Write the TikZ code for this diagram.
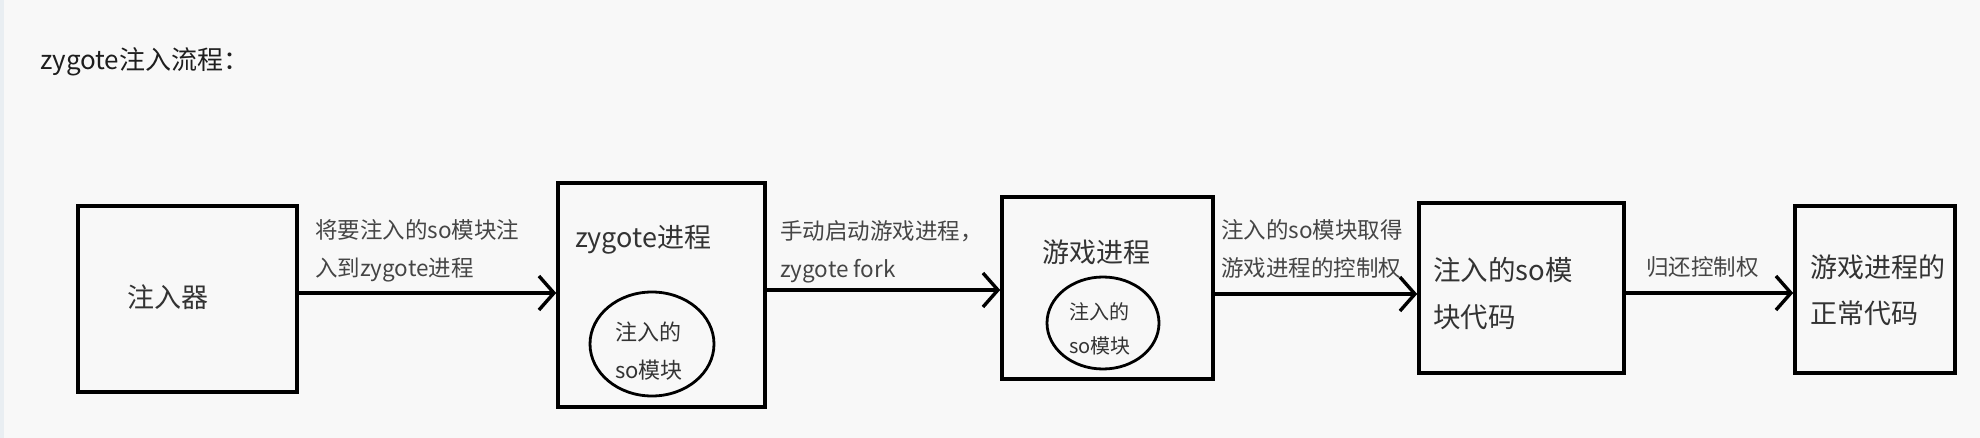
\documentclass[tikz,border=0pt]{standalone}
\usepackage{fontspec}
\setmainfont{Noto Sans CJK SC}
\usetikzlibrary{arrows.meta,shapes.geometric}
\definecolor{bgcol}{HTML}{F8F8F8}
\definecolor{stripcol}{HTML}{E9EEF2}
\definecolor{titlecol}{HTML}{1E1E1E}
\definecolor{boxtext}{HTML}{333333}
\definecolor{labtext}{HTML}{454545}
\begin{document}
\begin{tikzpicture}[x=1pt,y=-1pt,
  box/.style={draw=black, line width=3.6pt, rectangle, inner sep=0pt},
  oval/.style={draw=black, line width=2.8pt, ellipse, inner sep=0pt},
  arr/.style={draw=black, line width=3.4pt, -{Straight Barb[length=15pt,width=34pt]}},
  txt/.style={anchor=west, inner sep=0pt, align=left, text=boxtext},
  lab/.style={anchor=west, inner sep=0pt, align=left, text=labtext, font=\fontsize{22.5pt}{38pt}\selectfont}
]
\useasboundingbox (0,0) rectangle (1980,438);
\fill[bgcol] (0,0) rectangle (1980,438);
\fill[stripcol] (0,0) rectangle (4,438);

% title
\node[anchor=west, inner sep=0pt, text=titlecol, font=\fontsize{26pt}{30pt}\selectfont] (title) at (40,62) {zygote注入流程：};

% boxes
\node[box, minimum width=219pt, minimum height=186pt] (b1) at (187.5,299) {};
\node[box, minimum width=207pt, minimum height=224pt] (b2) at (661.5,295) {};
\node[box, minimum width=211pt, minimum height=182pt] (b3) at (1107.5,288) {};
\node[box, minimum width=205pt, minimum height=170pt] (b4) at (1521.5,288) {};
\node[box, minimum width=160pt, minimum height=167pt] (b5) at (1875,289.5) {};

% ellipses
\node[oval, minimum width=124pt, minimum height=104pt] (e2) at (652,344) {};
\node[oval, minimum width=112pt, minimum height=92pt] (e3) at (1103,323) {};

% box texts
\node[txt, font=\fontsize{27pt}{32pt}\selectfont] (t1) at (127,297) {注入器};
\node[txt, font=\fontsize{27pt}{32pt}\selectfont] (t2) at (575,240) {zygote进程};
\node[txt, font=\fontsize{22pt}{38pt}\selectfont] (t2e) at (615,351) {注入的\\so模块};
\node[txt, font=\fontsize{27pt}{32pt}\selectfont] (t3) at (1042,252) {游戏进程};
\node[txt, font=\fontsize{20pt}{34pt}\selectfont] (t3e) at (1069,329) {注入的\\so模块};
\node[txt, font=\fontsize{27.5pt}{47pt}\selectfont] (t4) at (1433,293.5) {注入的so模\\块代码};
\node[txt, font=\fontsize{27pt}{46pt}\selectfont] (t5) at (1810,290) {游戏进程的\\正常代码};

% connectors
\draw[arr] (b1.east |- 0,293) -- (b2.west |- 0,293);
\draw[arr] (b2.east |- 0,290) -- (b3.west |- 0,290);
\draw[arr] (b3.east |- 0,294) -- (b4.west |- 0,294);
\draw[arr] (b4.east |- 0,293) -- (b5.west |- 0,293);

% connector labels
\node[lab] (l1) at (315,251) {将要注入的so模块注\\入到zygote进程};
\node[lab] (l2) at (780,251.5) {手动启动游戏进程，\\zygote fork};
\node[lab] (l3) at (1221,249) {注入的so模块取得\\游戏进程的控制权};
\node[lab] (l4) at (1646,267) {归还控制权};
\end{tikzpicture}
\end{document}
